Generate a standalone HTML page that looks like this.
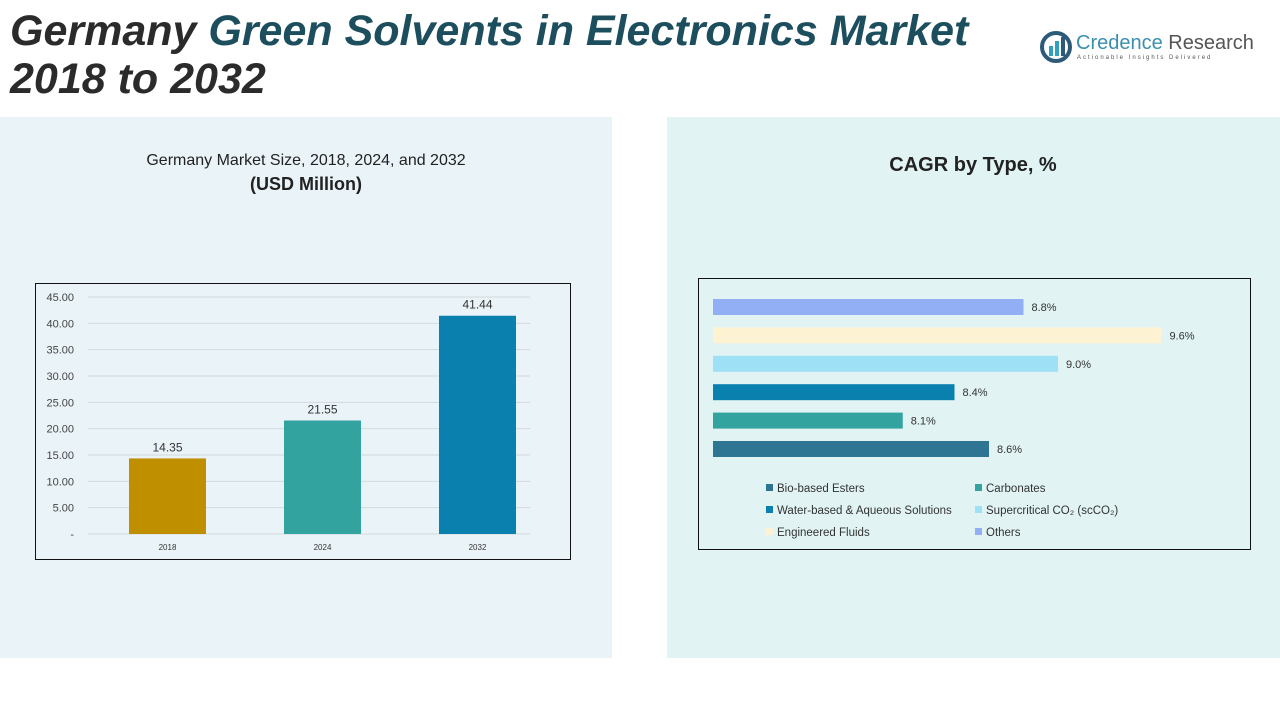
<!DOCTYPE html>
<html><head><meta charset="utf-8"><style>
body{margin:0;width:1280px;height:720px;background:#fff;position:relative;overflow:hidden;font-family:"Liberation Sans",sans-serif;}
.abs{position:absolute;}
h1{position:absolute;left:10px;top:7px;margin:0;font-size:43px;line-height:48px;font-style:italic;font-weight:bold;color:#2b2b2b;white-space:nowrap;}
h1 span{color:#1d4e5e;}
</style></head><body>
<h1>Germany <span>Green Solvents in Electronics Market</span><br>2018 to 2032</h1>
<div class="abs" style="left:1040px;top:30px;width:215px;height:36px;">
<svg width="32" height="34" style="position:absolute;left:0;top:0"><circle cx="16" cy="17" r="14" fill="none" stroke="#2d5a78" stroke-width="4"/><rect x="9" y="16" width="4" height="10" fill="#2ea0c0"/><rect x="15" y="11" width="4" height="15" fill="#2ea0c0"/><rect x="21" y="7" width="4" height="19" fill="#2d5a78"/></svg>
<div class="abs" style="left:36px;top:2px;font-size:20px;color:#3a8fb0;white-space:nowrap">Credence <span style="color:#555">Research</span></div>
<div class="abs" style="left:37px;top:25px;font-size:6px;letter-spacing:2px;color:#555;white-space:nowrap">Actionable Insights Delivered</div>
</div>
<div class="abs" style="left:0;top:117px;width:612px;height:541px;background:#eaf3f8"></div>
<div class="abs" style="left:667px;top:117px;width:613px;height:541px;background:#e1f3f3"></div>
<div class="abs" style="left:0;top:152px;width:612px;text-align:center;font-size:16px;color:#222">Germany Market Size, 2018, 2024, and 2032<br><b style="font-size:18px;line-height:28px">(USD Million)</b></div>
<div class="abs" style="left:578px;top:154px;width:790px;text-align:center;font-size:20px;font-weight:bold;color:#222">CAGR by Type, %</div>
<svg class="abs" style="left:0;top:0" width="1280" height="720" id="svg"></svg>
<script>
const years=["2018","2024","2032"];
const sizes=[14.35,21.55,41.44];
const yTicks=[0,5,10,15,20,25,30,35,40,45];
const types=["Bio-based Esters","Carbonates","Water-based & Aqueous Solutions","Supercritical CO₂ (scCO₂)","Engineered Fluids","Others"];
const cagr=[8.6,8.1,8.4,9.0,9.6,8.8];
const typeColors=["#2e7493","#33a39f","#0a80ae","#9ee1f6","#fdf3d3","#92aef4"];
const barColors=["#bf8f00","#33a39f","#0a80ae"];
const NS="http://www.w3.org/2000/svg",svg=document.getElementById('svg');
function mk(t,a,txt){const e=document.createElementNS(NS,t);for(const k in a)e.setAttribute(k,a[k]);if(txt!=null)e.textContent=txt;svg.appendChild(e);return e;}
let b=mk('rect',{x:35.5,y:283.5,width:535,height:276,fill:'none',stroke:'#111','stroke-width':1});


const y=v=>534-v*(237/45), xc=i=>167.5+i*155;
yTicks.forEach(t=>{
 const l=mk('line',{x1:88,x2:530,y1:y(t),y2:y(t),stroke:'#d4d9dc','stroke-width':1});
 
 
 const tx=mk('text',{x:74,y:y(t)+4,'text-anchor':'end','font-size':11,fill:'#444'},t===0?'-':t.toFixed(2));
 
 
});
sizes.forEach((v,i)=>{
 const r=mk('rect',{x:xc(i)-38.5,y:y(v),width:77,height:y(0)-y(v),fill:barColors[i]});
 
 
 const t=mk('text',{x:xc(i),y:y(v)-7,'text-anchor':'middle','font-size':12,fill:'#333'},v.toFixed(2));
 
 
 const c=mk('text',{x:xc(i),y:550,'text-anchor':'middle','font-size':8,fill:'#333'},years[i]);
 
 
});
b=mk('rect',{x:698.5,y:278.5,width:552,height:271,fill:'none',stroke:'#111','stroke-width':1});


const xs=v=>713+(v-7)*172.5, rowY=i=>449-i*28.4;
cagr.forEach((v,i)=>{
 const r=mk('rect',{x:713,y:rowY(i)-8,width:xs(v)-713,height:16,fill:typeColors[i]});
 
 
 const t=mk('text',{x:xs(v)+8,y:rowY(i)+4,'font-size':11,fill:'#333'},v.toFixed(1)+'%');
 
 
});
types.forEach((n,i)=>{
 const lx=i%2?975:766, ly=489+Math.floor(i/2)*22;
 const s=mk('rect',{x:lx,y:ly-5,width:7,height:7,fill:typeColors[i]});
 
 
 const t=mk('text',{x:lx+11,y:ly+3,'font-size':11.5,fill:'#333'},n);
 
 
});
</script>
</body></html>
